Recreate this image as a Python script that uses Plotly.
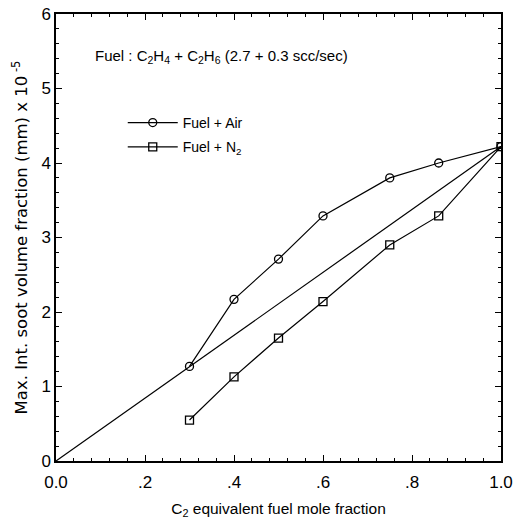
import plotly.graph_objects as go

x_vals = [0.3, 0.4, 0.5, 0.6, 0.75, 0.86, 1.0]
air_vals = [1.27, 2.17, 2.71, 3.29, 3.80, 4.00, 4.22]
n2_vals = [0.55, 1.13, 1.65, 2.14, 2.90, 3.29, 4.22]
ref_x = [0.0, 1.0]
ref_y = [0.0, 4.22]
x_tickvals = [0.0, 0.2, 0.4, 0.6, 0.8, 1.0]
x_ticktext = ["0.0", ".2", ".4", ".6", ".8", "1.0"]
y_tickvals = [0, 1, 2, 3, 4, 5, 6]

FONT = "Liberation Sans, Arial, sans-serif"

fig = go.Figure()
fig.add_trace(go.Scatter(x=ref_x, y=ref_y, mode="lines", showlegend=False,
                         line=dict(color="black", width=1.2)))
fig.add_trace(go.Scatter(x=x_vals, y=air_vals, mode="lines+markers", name="Fuel + Air",
                         legendgroup="a",
                         line=dict(color="black", width=1.2),
                         marker=dict(symbol="circle-open", size=8, color="black", line=dict(width=1.3))))
fig.add_trace(go.Scatter(x=x_vals, y=n2_vals, mode="lines+markers", name="Fuel + N<sub>2</sub>",
                         legendgroup="b",
                         line=dict(color="black", width=1.2),
                         marker=dict(symbol="square-open", size=8, color="black", line=dict(width=1.3))))

axis_common = dict(showgrid=False, zeroline=False, showline=True, linecolor="black", linewidth=1.5,
                   mirror="ticks", ticks="inside", ticklen=6, tickwidth=1.2, tickcolor="black",
                   automargin=False,
                   tickfont=dict(family=FONT, size=17, color="black"))

fig.update_xaxes(range=[0, 1.0], tickvals=x_tickvals, ticktext=x_ticktext, ticklabelstandoff=5,
                 minor=dict(dtick=0.04, ticks="inside", ticklen=3, tickcolor="black", tickwidth=1),
                 title=dict(text="C<sub>2</sub> equivalent fuel mole fraction",
                            font=dict(family=FONT, size=15.5, color="black"), standoff=12),
                 **axis_common)
fig.update_yaxes(range=[0, 6], tickvals=y_tickvals,
                 minor=dict(dtick=0.2, ticks="inside", ticklen=3, tickcolor="black", tickwidth=1),
                 title=dict(text="Max. Int. soot volume fraction (mm) x 10<sup> -5</sup>",
                            font=dict(family="DejaVu Sans, sans-serif", size=16.5, color="black"), standoff=10),
                 **axis_common)

fig.add_annotation(x=0.083, y=0.905, xref="paper", yref="paper", xanchor="left", yanchor="middle",
                   text="Fuel : C<sub>2</sub>H<sub>4</sub> + C<sub>2</sub>H<sub>6</sub> (2.7 + 0.3 scc/sec)",
                   showarrow=False, font=dict(family=FONT, size=15, color="black"))

fig.update_layout(
    width=514, height=524,
    margin=dict(l=56, r=13, t=14, b=63),
    plot_bgcolor="white", paper_bgcolor="white",
    legend=dict(x=0.15, y=0.792, xanchor="left", yanchor="top", bgcolor="rgba(0,0,0,0)",
                traceorder="grouped", tracegroupgap=3,
                font=dict(family=FONT, size=14, color="black"), itemwidth=50),
)

fig.write_html("out.html")
